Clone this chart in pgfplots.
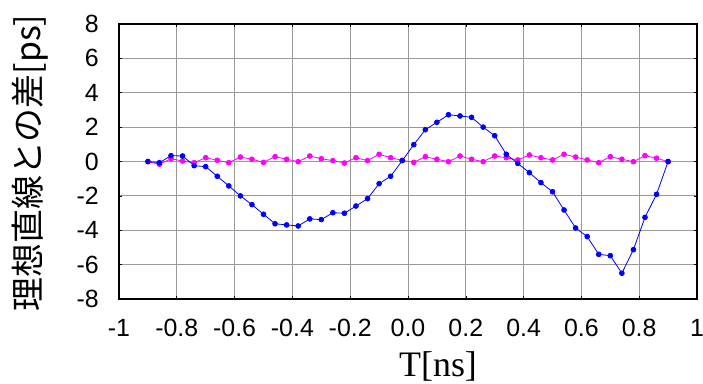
\documentclass[border=0pt]{standalone}
\usepackage{fontspec}
\setmainfont{Liberation Sans}
\newfontfamily\cjk{Noto Sans CJK JP}
\newfontfamily\tnr{Liberation Serif}
\usepackage{pgfplots}
\pgfplotsset{compat=1.18}
\definecolor{myblue}{RGB}{0,0,255}
\definecolor{mymag}{RGB}{255,0,255}
\begin{document}
\begin{tikzpicture}
\begin{axis}[
 at={(0,0)}, anchor=south west,
 scale only axis, width=578bp, height=275bp,
 xmin=-1, xmax=1, ymin=-8, ymax=8,
 xtick={-1,-0.8,-0.6,-0.4,-0.2,0,0.2,0.4,0.6,0.8,1},
 xticklabels={-1,-0.8,-0.6,-0.4,-0.2,0.0,0.2,0.4,0.6,0.8,1},
 ytick={-8,-6,-4,-2,0,2,4,6,8},
 tick align=inside, major tick length=3bp,
 grid=major, grid style={black!40, line width=0.9bp},
 axis line style={line width=1.5bp},
 tick style={black, line width=0.6bp},
 ticklabel style={font=\fontsize{25}{25}\selectfont, inner sep=0pt},
 /pgf/number format/assume math mode=true,
 xticklabel style={anchor=base, yshift=-37bp},
 yticklabel style={anchor=east, xshift=-20bp},
 xlabel={\tnr T[ns]},
 xlabel style={font=\fontsize{36}{36}\selectfont, at={(axis description cs:0.552,-0.2836)}, anchor=base, inner sep=0pt},
 ylabel={\cjk 理想直線との差[ps]},
 ylabel style={font=\fontsize{34}{34}\selectfont, at={(axis description cs:-0.154,0.495)}, anchor=center, inner sep=0pt},
]
\addplot[mymag, line width=0.8bp, mark=*, mark size=2.4bp, mark options={fill=mymag, draw=mymag}] coordinates {
(-0.90,-0.01) (-0.86,-0.16) (-0.82,0.16) (-0.78,0.03) (-0.74,-0.07) (-0.70,0.22)
(-0.66,0.07) (-0.62,-0.07) (-0.58,0.26) (-0.54,0.13) (-0.50,-0.05) (-0.46,0.28)
(-0.42,0.13) (-0.38,-0.01) (-0.34,0.32) (-0.30,0.16) (-0.26,0.05) (-0.22,-0.09)
(-0.18,0.22) (-0.14,0.05) (-0.10,0.42) (-0.06,0.22) (-0.02,0.07) (0.02,-0.05)
(0.06,0.28) (0.10,0.13) (0.14,-0.01) (0.18,0.32) (0.22,0.13) (0.26,-0.01)
(0.30,0.32) (0.34,0.22) (0.38,0.09) (0.42,0.38) (0.46,0.22) (0.50,0.09)
(0.54,0.42) (0.58,0.26) (0.62,0.09) (0.66,-0.07) (0.70,0.28) (0.74,0.13)
(0.78,-0.01) (0.82,0.34) (0.86,0.19) (0.90,-0.01)
};
\addplot[myblue, line width=0.8bp, mark=*, mark size=2.4bp, mark options={fill=myblue, draw=myblue}] coordinates {
(-0.90,0.0) (-0.86,-0.07) (-0.82,0.34) (-0.78,0.32) (-0.74,-0.24) (-0.70,-0.30)
(-0.66,-0.86) (-0.62,-1.42) (-0.58,-2.0) (-0.54,-2.51) (-0.50,-3.07) (-0.46,-3.62)
(-0.42,-3.69) (-0.38,-3.75) (-0.34,-3.34) (-0.30,-3.38) (-0.26,-2.98) (-0.22,-3.01)
(-0.18,-2.59) (-0.14,-2.16) (-0.10,-1.29) (-0.06,-0.86) (-0.02,0.05) (0.02,0.98)
(0.06,1.85) (0.10,2.28) (0.14,2.72) (0.18,2.65) (0.22,2.57) (0.26,2.0)
(0.30,1.5) (0.34,0.42) (0.38,-0.11) (0.42,-0.65) (0.46,-1.23) (0.50,-1.76)
(0.54,-2.82) (0.58,-3.87) (0.62,-4.37) (0.66,-5.40) (0.70,-5.48) (0.74,-6.50)
(0.78,-5.13) (0.82,-3.25) (0.86,-1.91) (0.90,0.0)
};
\end{axis}
\pgfresetboundingbox
\path[use as bounding box] (-119bp,-85bp) rectangle (584bp,299bp);
\end{tikzpicture}
\end{document}
